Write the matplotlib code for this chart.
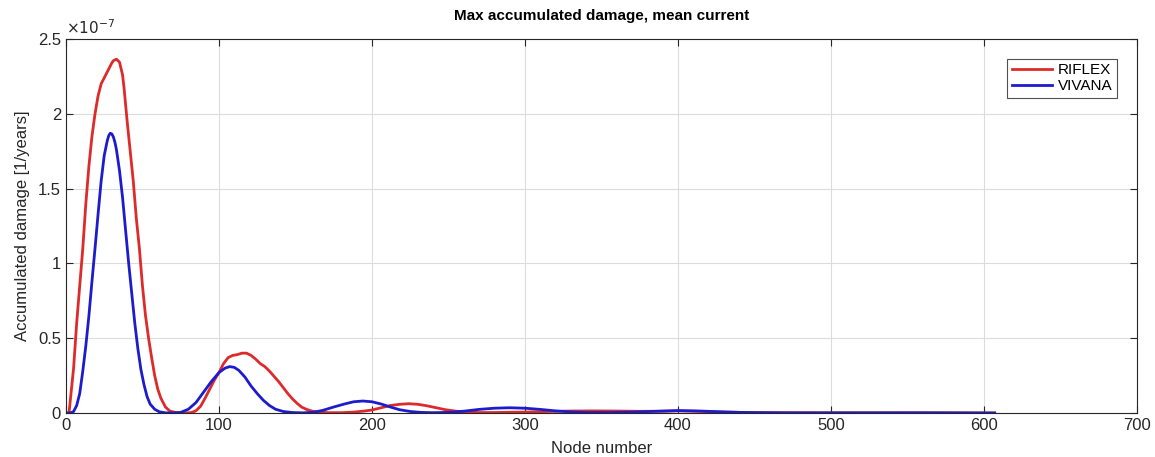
import matplotlib.pyplot as plt
from matplotlib.ticker import FormatStrFormatter

plt.rcParams['font.family'] = ['Liberation Sans', 'DejaVu Sans']

# node numbers and damage values (in units of 1e-7 1/years)
riflex_node = [0, 2, 3, 5, 7, 9, 11, 13, 15, 17, 19, 21, 23, 26, 28, 30, 31, 33, 35, 37, 38, 40,
               42, 44, 46, 48, 50, 52, 54, 56, 58, 60, 62, 65, 68, 72, 78, 82, 85, 88, 91, 94,
               97, 100, 103, 106, 109, 112, 115, 118, 121, 124, 127, 130, 133, 136, 139, 142,
               145, 148, 151, 154, 157, 161, 166, 172, 180, 188, 195, 200, 206, 212, 218, 224,
               230, 236, 242, 248, 255, 262, 270, 280, 290, 300, 315, 330, 345, 360, 375, 390,
               400, 410, 425, 440, 460, 500, 540, 580, 607]
riflex_dmg = [0, 0.0, 0.1, 0.3, 0.6, 0.85, 1.1, 1.4, 1.65, 1.85, 2.0, 2.12, 2.2, 2.26, 2.3,
              2.34, 2.355, 2.365, 2.345, 2.26, 2.17, 1.95, 1.75, 1.55, 1.3, 1.1, 0.85, 0.65, 0.5,
              0.37, 0.25, 0.16, 0.1, 0.04, 0.012, 0.003, 0.0, 0.003, 0.015, 0.045, 0.1, 0.16,
              0.22, 0.27, 0.33, 0.37, 0.385, 0.39, 0.40, 0.40, 0.385, 0.36, 0.33, 0.31, 0.28,
              0.245, 0.21, 0.17, 0.13, 0.095, 0.065, 0.04, 0.025, 0.012, 0.005, 0.002, 0.002,
              0.006, 0.013, 0.02, 0.035, 0.05, 0.058, 0.062, 0.058, 0.048, 0.035, 0.022, 0.012,
              0.006, 0.003, 0.003, 0.005, 0.006, 0.01, 0.013, 0.014, 0.013, 0.011, 0.012, 0.014,
              0.012, 0.007, 0.004, 0.002, 0.001, 0.001, 0.0005, 0.0]

vivana_node = [0, 3, 5, 7, 9, 11, 13, 15, 17, 19, 21, 23, 25, 27, 28, 29, 30, 31, 32, 33, 35,
               37, 39, 41, 43, 45, 47, 49, 51, 53, 55, 58, 61, 65, 70, 75, 80, 85, 90, 95, 100,
               104, 107, 110, 113, 117, 121, 125, 129, 133, 137, 142, 148, 155, 162, 168, 175,
               182, 188, 194, 200, 206, 212, 218, 225, 232, 240, 250, 260, 270, 280, 290, 300,
               310, 320, 330, 340, 355, 370, 385, 400, 415, 430, 445, 470, 520, 560, 607]
vivana_dmg = [0, 0.0, 0.01, 0.05, 0.13, 0.28, 0.45, 0.65, 0.88, 1.1, 1.33, 1.55, 1.72, 1.82,
              1.855, 1.87, 1.865, 1.845, 1.81, 1.76, 1.62, 1.44, 1.22, 1.0, 0.8, 0.6, 0.43, 0.29,
              0.19, 0.11, 0.06, 0.025, 0.008, 0.001, 0.0, 0.004, 0.025, 0.07, 0.14, 0.21, 0.27,
              0.3, 0.31, 0.305, 0.285, 0.24, 0.18, 0.13, 0.085, 0.05, 0.025, 0.01, 0.003, 0.001,
              0.005, 0.018, 0.04, 0.06, 0.075, 0.08, 0.075, 0.06, 0.04, 0.022, 0.01, 0.004,
              0.002, 0.004, 0.012, 0.024, 0.032, 0.035, 0.032, 0.024, 0.014, 0.007, 0.003,
              0.003, 0.006, 0.011, 0.016, 0.013, 0.007, 0.003, 0.001, 0.001, 0.0015, 0.0]

fig = plt.figure(figsize=(11.55, 4.57), dpi=100)
ax = fig.add_axes([0.0571, 0.0963, 0.9273, 0.8184])

ax.plot(riflex_node, riflex_dmg, color='#dd2a2a', lw=2.0, label='RIFLEX')
ax.plot(vivana_node, vivana_dmg, color='#1c1ccc', lw=2.0, label='VIVANA')

ax.set_xlim(0, 700)
ax.set_ylim(0, 2.5)
ax.set_xticks(range(0, 701, 100))
ax.set_yticks([0, 0.5, 1, 1.5, 2, 2.5])
ax.yaxis.set_major_formatter(FormatStrFormatter('%g'))

ax.grid(True, color='#dcdcdc', lw=0.8)
ax.set_axisbelow(True)
ax.tick_params(direction='in', length=5, colors='#262626', labelsize=12,
               top=True, right=True)
for s in ax.spines.values():
    s.set_color('#262626')
    s.set_linewidth(0.8)

ax.text(0.0, 1.004, r'$\times 10^{-7}$', transform=ax.transAxes, fontsize=11,
        color='#262626', ha='left', va='bottom')

ax.set_title('Max accumulated damage, mean current', fontsize=11, fontweight='bold', pad=14)
ax.set_xlabel('Node number', fontsize=12, color='#262626', labelpad=6)
ax.set_ylabel('Accumulated damage [1/years]', fontsize=12, color='#262626', labelpad=6)

leg = ax.legend(loc='upper right', fontsize=11, frameon=True, fancybox=False,
                edgecolor='#262626', handlelength=2.6, borderpad=0.3, labelspacing=0.1,
                handletextpad=0.4, borderaxespad=1.3)
leg.get_frame().set_linewidth(0.8)

plt.savefig('out.png', dpi=100)
